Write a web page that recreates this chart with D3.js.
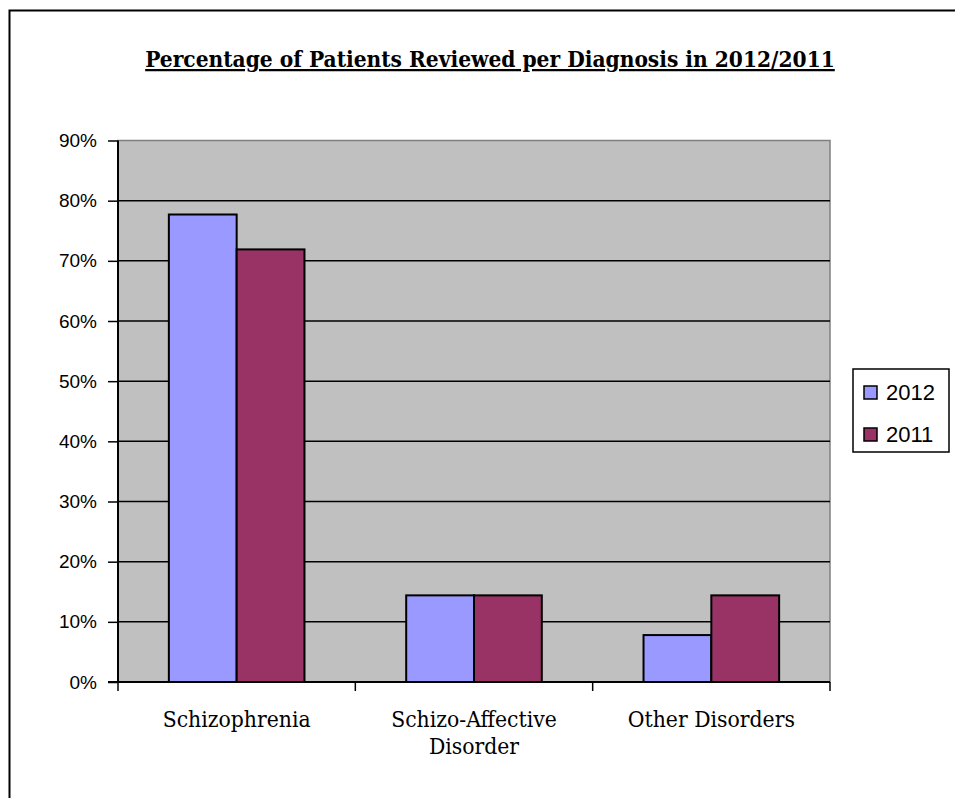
<!DOCTYPE html>
<html>
  <head>
    <meta charset="utf-8">
    <title></title>
  </head>
  <style>
    body { margin: 0; background: #fff; }
    svg { display: block; }
  </style>
  <script src="https://d3js.org/d3.v7.min.js"></script>
  <body>
    <script>
    // data
    var categories = ["Schizophrenia", "Schizo-Affective\nDisorder", "Other Disorders"]
    var seriesNames = ["2012", "2011"]
    var values2012 = [0.777, 0.144, 0.078]
    var values2011 = [0.719, 0.144, 0.144]
    var yTicks = [0, 0.1, 0.2, 0.3, 0.4, 0.5, 0.6, 0.7, 0.8, 0.9]
    var colors = { "2012": "#9999FF", "2011": "#993366" }

    var W = 955, H = 798
    var plot = { left: 118, right: 830, top: 140.5, bottom: 682 }

    var svg = d3.select("body").append("svg")
                .attr("width", W)
                .attr("height", H)

    // outer chart border (runs off right and bottom)
    svg.append("rect")
       .attr("x", 9.5).attr("y", 10.5)
       .attr("width", W).attr("height", H)
       .attr("fill", "#fff")
       .attr("stroke", "#000")
       .attr("stroke-width", 2)

    // title
    var title = svg.append("text")
       .attr("x", 490).attr("y", 67)
       .attr("text-anchor", "middle")
       .attr("font-family", "DejaVu Serif Condensed, DejaVu Serif")
       .attr("font-weight", "bold")
       .attr("font-size", 20)
       .attr("text-decoration", "underline")
       .attr("fill", "#000")
       .text("Percentage of Patients Reviewed per Diagnosis in 2012/2011")
    var tl = title.node().getComputedTextLength()
    title.attr("font-size", 20 * 690 / tl)

    //比例尺
    var x0 = d3.scaleBand()
               .domain(categories)
               .range([plot.left, plot.right])
               .paddingInner(0).paddingOuter(0)
    var x1 = d3.scaleBand()
               .domain(seriesNames)
               .range([0, x0.bandwidth()])
               .paddingInner(0).paddingOuter(0.75)
    var y = d3.scaleLinear()
              .domain([0, 0.9])
              .range([plot.bottom, plot.top])

    // plot area
    svg.append("rect")
       .attr("x", plot.left).attr("y", plot.top)
       .attr("width", plot.right - plot.left)
       .attr("height", plot.bottom - plot.top)
       .attr("fill", "#C0C0C0")
       .attr("stroke", "#808080")
       .attr("stroke-width", 1.5)

    // gridlines
    svg.append("g").selectAll("line")
       .data(yTicks.filter(function(d){ return d > 0 && d < 0.9 }))
       .enter().append("line")
       .attr("x1", plot.left).attr("x2", plot.right)
       .attr("y1", function(d){ return y(d) })
       .attr("y2", function(d){ return y(d) })
       .attr("stroke", "#000")
       .attr("stroke-width", 1.5)

    // bars
    var rows = categories.map(function(c, i){
        return { cat: c, vals: [ { s: "2012", v: values2012[i] }, { s: "2011", v: values2011[i] } ] }
    })
    svg.append("g").selectAll("g")
       .data(rows)
       .enter().append("g")
       .attr("transform", function(d){ return "translate(" + x0(d.cat) + ",0)" })
       .selectAll("rect")
       .data(function(d){ return d.vals })
       .enter().append("rect")
       .attr("x", function(d){ return x1(d.s) })
       .attr("y", function(d){ return y(d.v) })
       .attr("width", x1.bandwidth())
       .attr("height", function(d){ return y(0) - y(d.v) })
       .attr("fill", function(d){ return colors[d.s] })
       .attr("stroke", "#000")
       .attr("stroke-width", 2)

    // y axis
    var yAxis = d3.axisLeft(y)
                  .tickValues(yTicks)
                  .tickFormat(d3.format(".0%"))
                  .tickSize(10)
                  .tickPadding(11)
    var gy = svg.append("g")
       .attr("transform", "translate(" + plot.left + ",0)")
       .call(yAxis)
    gy.select(".domain").attr("stroke", "#000").attr("stroke-width", 2)
      .attr("d", "M0," + plot.top + "V" + plot.bottom)
    gy.selectAll(".tick line").attr("stroke", "#000").attr("stroke-width", 1.5)
    gy.selectAll(".tick text")
      .attr("font-family", "Liberation Sans, Arial")
      .attr("font-size", 19)
      .attr("fill", "#000")

    // x axis
    var gx = svg.append("g")
       .attr("transform", "translate(0," + plot.bottom + ")")
    gx.append("line")
      .attr("x1", plot.left - 10).attr("x2", plot.right)
      .attr("stroke", "#000").attr("stroke-width", 2)
    var bounds = categories.map(function(c){ return x0(c) }).concat([plot.right])
    gx.selectAll(".tk").data(bounds).enter().append("line")
      .attr("class", "tk")
      .attr("x1", function(d){ return d }).attr("x2", function(d){ return d })
      .attr("y1", 0).attr("y2", 9)
      .attr("stroke", "#000").attr("stroke-width", 1.5)

    var labels = gx.selectAll(".lbl").data(categories).enter().append("text")
      .attr("class", "lbl")
      .attr("text-anchor", "middle")
      .attr("font-family", "DejaVu Serif Condensed, DejaVu Serif")
      .attr("font-size", 17)
      .attr("fill", "#000")
    labels.selectAll("tspan")
      .data(function(d){ return d.split("\n").map(function(t){ return { t: t, c: d } }) })
      .enter().append("tspan")
      .attr("x", function(d){ return x0(d.c) + x0.bandwidth() / 2 })
      .attr("y", function(d, i){ return 45 + i * 27 })
      .text(function(d){ return d.t })
    var ll = labels.filter(function(d, i){ return i === 0 }).node().getComputedTextLength()
    labels.attr("font-size", 17 * 148 / ll)

    // legend
    var lg = svg.append("g").attr("transform", "translate(853,369)")
    lg.append("rect")
      .attr("width", 96).attr("height", 83)
      .attr("fill", "#fff").attr("stroke", "#000").attr("stroke-width", 1.5)
    var li = lg.selectAll(".li").data(seriesNames).enter().append("g")
      .attr("class", "li")
      .attr("transform", function(d, i){ return "translate(0," + (23 + i * 42) + ")" })
    li.append("rect")
      .attr("x", 11).attr("y", -6)
      .attr("width", 13).attr("height", 13)
      .attr("fill", function(d){ return colors[d] })
      .attr("stroke", "#000").attr("stroke-width", 1.5)
    li.append("text")
      .attr("x", 33).attr("y", 8)
      .attr("font-family", "Liberation Sans, Arial")
      .attr("font-size", 22)
      .attr("fill", "#000")
      .text(function(d){ return d })
    </script>
  </body>
</html>
